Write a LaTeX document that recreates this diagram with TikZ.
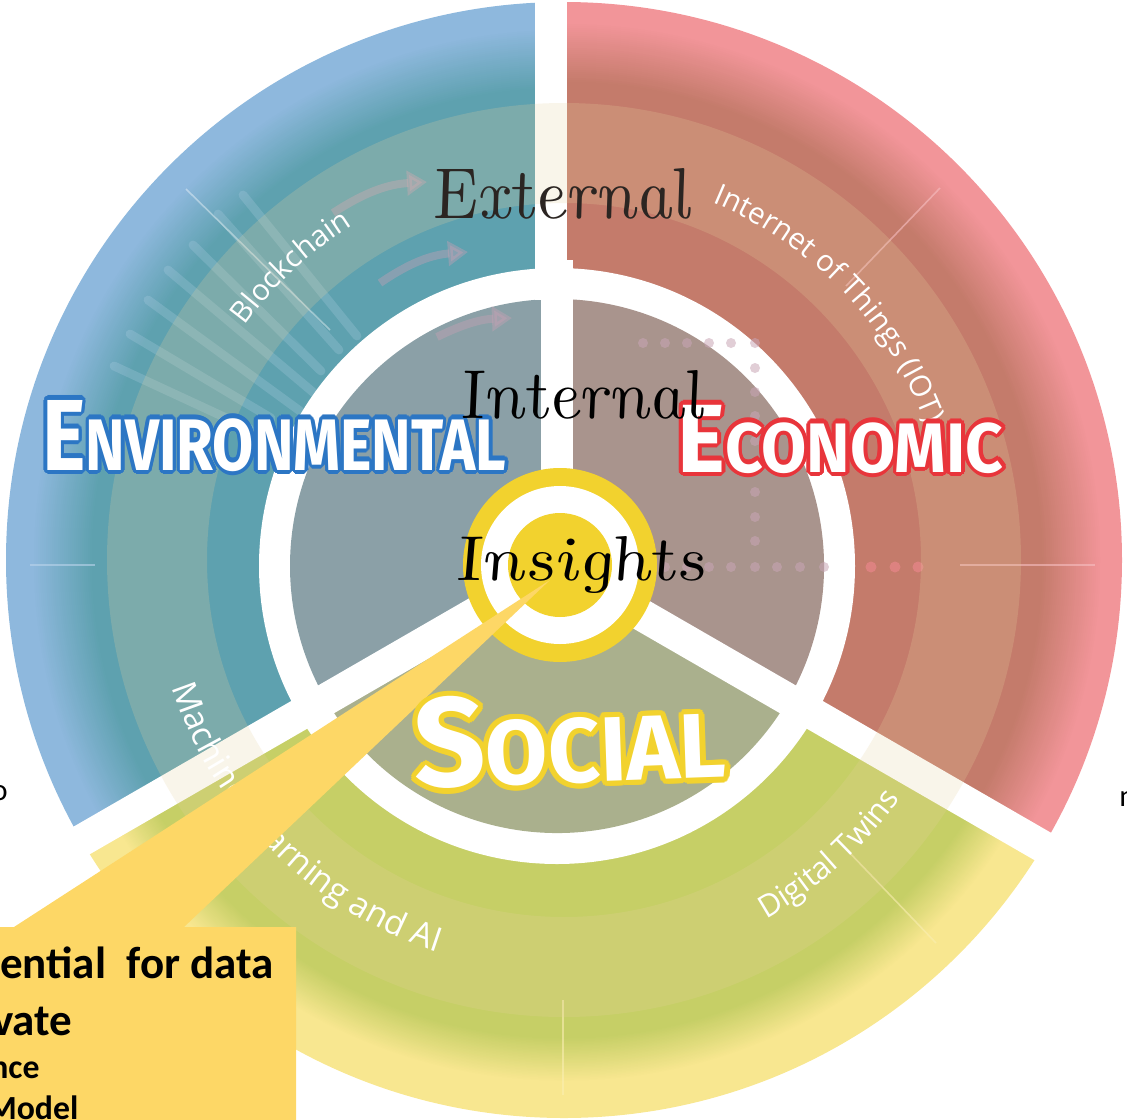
\documentclass[tikz,border=0pt]{standalone}
\usepackage{fontspec}
\usepackage{contour}
\usetikzlibrary{calc,decorations.text,arrows.meta}

\newfontfamily\ringfont{Open Sans}
\newfontfamily\tagfont{Fira Sans}
\newfontfamily\notefont{Carlito}

% sector colours
\definecolor{skyB}{HTML}{8EB8DD}
\definecolor{tealB}{HTML}{5EA1AF}
\definecolor{pinkR}{HTML}{F29599}
\definecolor{brickR}{HTML}{C47B6B}
\definecolor{paleY}{HTML}{F8E790}
\definecolor{oliveG}{HTML}{C6CF66}
\definecolor{coreB}{HTML}{8BA0A7}
\definecolor{coreR}{HTML}{A9948D}
\definecolor{coreG}{HTML}{AAB08D}
\definecolor{gold}{HTML}{F2D22E}
\definecolor{callout}{HTML}{FDD766}
\definecolor{bandcream}{HTML}{E8D2A0}
\definecolor{envblue}{HTML}{2C76C4}
\definecolor{ecored}{HTML}{E8353B}
\definecolor{socyellow}{HTML}{F2D22E}
\definecolor{arrowmauve}{HTML}{C8A0B4}
\definecolor{dotlilac}{HTML}{C9A6B6}
\definecolor{dotpink}{HTML}{E8868A}
\definecolor{inkbrown}{HTML}{2B2522}

% rim gradient: light tone at the outer edge (#1), deep tone inside (#2),
% blending between radius #3 and radius #4
\newcommand\rimfill[4]{%
  \fill[#1] (R) circle[radius=558];
  \foreach \k in {0,...,29} {%
    \pgfmathsetmacro\rr{#3-(#3-#4)*\k/30}%
    \pgfmathtruncatemacro\pc{100-\k*100/30}%
    \fill[#1!\pc!#2] (R) circle[radius=\rr];
  }
  \fill[#2] (R) circle[radius=#4];
}

\contourlength{3pt}

\begin{document}
\begin{tikzpicture}[x=0.025cm,y=0.025cm,
  gap/.style={white, line width=0.8cm},
  streak/.style={skyB!55!white, opacity=0.22, line width=0.22cm, line cap=round},
  flowarrow/.style={draw=arrowmauve, opacity=0.4, line width=0.2cm, -{Triangle[length=0.5cm,width=0.6cm]}},
  coredot/.style={fill=dotlilac, opacity=0.55},
  rimdot/.style={fill=dotpink, opacity=0.7},
  hairline/.style={line width=0.04cm, opacity=0.6},
  ringlabel/.style n args={2}{decorate, decoration={text along path, text align=center, text color=white, text={|\ringfont\fontsize{#1}{#1}\selectfont|#2}}},
  hand/.style={inner sep=0pt, anchor=base, xslant=-0.21, transform shape},
  tag/.style={inner sep=0pt, anchor=base west},
  note/.style={inner sep=0pt, anchor=base west}
]
\useasboundingbox (0,-1120) rectangle (1127,0);

\coordinate (O) at (557,-566);  % hub centre
\coordinate (R) at (564,-560);  % rim centre
\coordinate (G) at (560,-565);  % target centre

% ---- outer rim, three graded sectors
\begin{scope}
  \clip (O) -- ($(O)+(90:800)$) arc[start angle=90, end angle=210, radius=800] -- cycle;
  \rimfill{skyB}{tealB}{532}{472}
\end{scope}
\begin{scope}
  \clip (O) -- ($(O)+(-30:800)$) arc[start angle=-30, end angle=90, radius=800] -- cycle;
  \rimfill{pinkR}{brickR}{538}{478}
\end{scope}
\begin{scope}
  \clip (O) -- ($(O)+(210:800)$) arc[start angle=210, end angle=330, radius=800] -- cycle;
  \rimfill{paleY}{oliveG}{522}{478}
\end{scope}

% light streaks in the blue rim
\draw[streak] (243,-195) -- (357,-336);
\draw[streak] (218,-214) -- (339,-350);
\draw[streak] (193,-245) -- (321,-371);
\draw[streak] (168,-270) -- (314,-393);
\draw[streak] (148,-300) -- (300,-411);
\draw[streak] (130,-334) -- (271,-418);
\draw[streak] (114,-366) -- (250,-429);
\draw[white, hairline, opacity=0.4] (186,-189) -- (330,-330);

% white ring and the three core sectors
\fill[white] (O) circle[radius=298];
\fill[coreB] (O) -- ($(O)+(90:267)$) arc[start angle=90, end angle=210, radius=267] -- cycle;
\fill[coreR] (O) -- ($(O)+(-30:267)$) arc[start angle=-30, end angle=90, radius=267] -- cycle;
\fill[coreG] (O) -- ($(O)+(210:267)$) arc[start angle=210, end angle=330, radius=267] -- cycle;

% faint flow arrows
\draw[flowarrow] (333,-213) to[bend left=15] (427,-182);
\draw[flowarrow] (380,-283) to[bend left=15] (468,-252);
\draw[flowarrow] (437,-337) to[bend left=12] (512,-318);

% dotted guides in the economic core
\foreach \y in {343,368,392,416,441,466,492,517,541}
  \fill[coredot] (755,-\y) circle[radius=5];
\foreach \x in {643,665,687,709,731}
  \fill[coredot] (\x,-343) circle[radius=5];
\foreach \x in {665,687,709,731,755,777,800,824}
  \fill[coredot] (\x,-567) circle[radius=5];
\foreach \x in {871,895,918}
  \fill[rimdot] (\x,-567) circle[radius=5.5];

% hairlines across the rim
\draw[hairline, draw=pinkR!60!white] (940,-188) -- (846,-286);
\draw[hairline, draw=pinkR!60!white] (960,-565) -- (1095,-565);
\draw[hairline, draw=skyB!60!white] (30,-565) -- (95,-565);
\draw[hairline, draw=paleY!70!white] (563,-1000) -- (563,-1095);
\draw[hairline, draw=paleY!70!white] (846,-849) -- (936,-943);

% separating gaps
\draw[gap] (O) -- (557,-260);
\draw[gap] (551,-300) -- (551,20);
\draw[gap] (O) -- ($(O)+(210:640)$);
\draw[gap] (O) -- ($(O)+(330:640)$);

% translucent middle band
\fill[bandcream, opacity=0.22, even odd rule] (R) circle[radius=457] (R) circle[radius=357];

% technology labels along the band
\path[ringlabel={21}{Blockchain}] ($(R)+(160:396)$) arc[start angle=160, end angle=106, radius=396];
\path[ringlabel={21}{Internet of Things (IOT)}] ($(R)+(80:387)$) arc[start angle=80, end angle=8, radius=387];
\path[ringlabel={24}{Machine Learning and AI}] ($(R)+(183:412)$) arc[start angle=183, end angle=267, radius=412];
\path[ringlabel={22}{Digital Twins}] ($(R)+(280:412)$) arc[start angle=280, end angle=344, radius=412];

% central target
\fill[gold] (G) circle[radius=97];
\fill[white] (G) circle[radius=79];
\fill[gold] (G) circle[radius=52];

% callout
\fill[callout] (550,-580) -- (184,-927) -- (296,-927) -- (296,-1130) -- (-10,-1130) -- (-10,-927) -- (14,-927) -- cycle;

% pillar titles
\node[tag] (env) at (42,-470) {\resizebox{11.6cm}{1.75cm}{\color{white}\contour{envblue}{\tagfont\bfseries\fontsize{72}{72}\selectfont E\fontsize{52}{52}\selectfont NVIRONMENTAL}}};
\node[tag] (eco) at (677,-472) {\resizebox{8.15cm}{1.68cm}{\color{white}\contour{ecored}{\tagfont\bfseries\fontsize{72}{72}\selectfont E\fontsize{52}{52}\selectfont CONOMIC}}};
\node[tag, rotate=2] (soc) at (415,-788) {\resizebox{7.8cm}{2.25cm}{\color{white}\contour{socyellow}{\tagfont\bfseries\fontsize{72}{72}\selectfont S\fontsize{52}{52}\selectfont OCIAL}}};

% handwritten layer names
\begin{scope}[shift={(562,-218)}]
  \node[hand, text=inkbrown] (ext) at (0,0) {\resizebox{6.5cm}{1.25cm}{\itshape External}};
\end{scope}
\begin{scope}[shift={(582,-418)}]
  \node[hand] (int) at (0,0) {\resizebox{6.125cm}{1.2cm}{\itshape Internal}};
\end{scope}
\begin{scope}[shift={(581,-580)}]
  \node[hand] (ins) at (0,0) {\resizebox{6.3cm}{1.1cm}{\itshape Insights}};
\end{scope}

% callout text
\node[note, font={\notefont\bfseries\fontsize{32}{32}\selectfont}] (c1) at (0,-978) {ential\ \ for data};
\node[note, font={\notefont\bfseries\fontsize{32}{32}\selectfont}] (c2) at (-8,-1035) {vate};
\node[note, font={\notefont\bfseries\fontsize{24}{24}\selectfont}] (c3) at (-10,-1078) {nce};
\node[note, font={\notefont\bfseries\fontsize{24}{24}\selectfont}] (c4) at (-13,-1119) {Model};

% stray letters at the side edges
\node[note, font={\notefont\fontsize{22}{22}\selectfont}] (fl) at (-9,-800) {o};
\node[note, font={\notefont\fontsize{22}{22}\selectfont}] (fr) at (1119,-806) {n};
\end{tikzpicture}
\end{document}
